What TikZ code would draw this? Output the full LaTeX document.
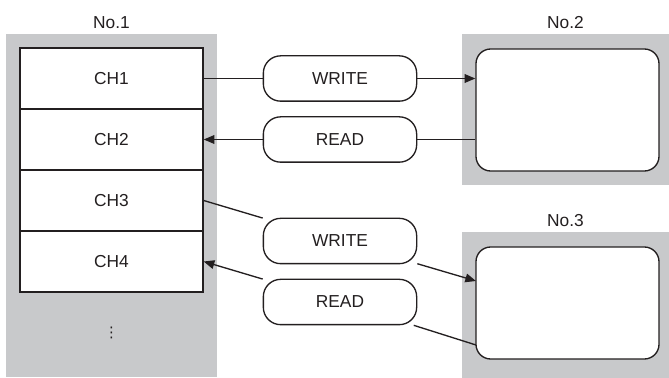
\documentclass[tikz,border=0pt]{standalone}
\usepackage{fontspec}
\setmainfont{Liberation Sans}
\newfontfamily\symfont{DejaVu Sans}
\usetikzlibrary{arrows.meta,positioning}
\definecolor{panel}{RGB}{200,201,203}
\definecolor{ink}{RGB}{35,31,32}

\tikzstyle{unit} = [rectangle, fill=panel, draw=none, label distance=1pt]
\tikzstyle{channel} = [rectangle, minimum width=137.25pt, minimum height=45.75pt, text centered, draw=ink, fill=white, line width=1pt]
\tikzstyle{station} = [rectangle, rounded corners=11pt, minimum width=137.25pt, draw=ink, fill=white, line width=1pt]
\tikzstyle{access} = [rectangle, rounded corners=13pt, minimum width=115pt, minimum height=34pt, text centered, draw=ink, fill=white, line width=1pt]
\tikzstyle{link} = [line width=1pt, draw=ink]
\tikzstyle{arrow} = [link, -{Triangle[length=8pt,width=6.5pt]}]

\begin{document}
\begin{tikzpicture}[x=0.75pt, y=-0.75pt, node distance=45.75pt, font=\fontsize{13}{15}\selectfont, text=ink]
	\useasboundingbox (0,0) rectangle (669,378);
	% Place units
	\node [unit, minimum width=158.25pt, minimum height=257.25pt, label={above:No.1}] (Unit1) at (111.5,205.5) {};
	\node [unit, minimum width=155.25pt, minimum height=113.25pt, label={above:No.2}] (Unit2) at (565.5,109.5) {};
	\node [unit, minimum width=155.25pt, minimum height=109.5pt, label={above:No.3}] (Unit3) at (565.5,305) {};
	% Place nodes
	\node [channel] (CH1) at (111.5,78.5) {CH1};
	\node [channel, below of=CH1] (CH2) {CH2};
	\node [channel, below of=CH2] (CH3) {CH3};
	\node [channel, below of=CH3] (CH4) {CH4};
	\node (Dots) at (111.5,333) {\symfont\fontsize{11}{12}\selectfont ⋮};
	\node [station, minimum height=91.5pt] (Station2) at (567.5,110) {};
	\node [station, minimum height=84pt] (Station3) at (567.5,303) {};
	\coordinate (In3) at (476,281);
	\coordinate (Out3) at (476,345);
	\node [access] (Write1) at (340,78.5) {WRITE};
	\node [access] (Read1) at (340,139.5) {READ};
	\node [access] (Write2) at (340,241) {WRITE};
	\node [access] (Read2) at (340,302) {READ};
	% Draw edges
	\draw [link] (CH1.east) -- (Write1);
	\draw [arrow] (Write1) -- (Write1 -| Station2.west);
	\draw [link] (Read1 -| Station2.west) -- (Read1);
	\draw [arrow] (Read1) -- (CH2.east);
	\draw [link] (CH3.east) -- (Write2);
	\draw [arrow] (Write2) -- (In3);
	\draw [link] (Out3) -- (Read2);
	\draw [arrow] (Read2) -- (CH4.east);
\end{tikzpicture}
\end{document}
